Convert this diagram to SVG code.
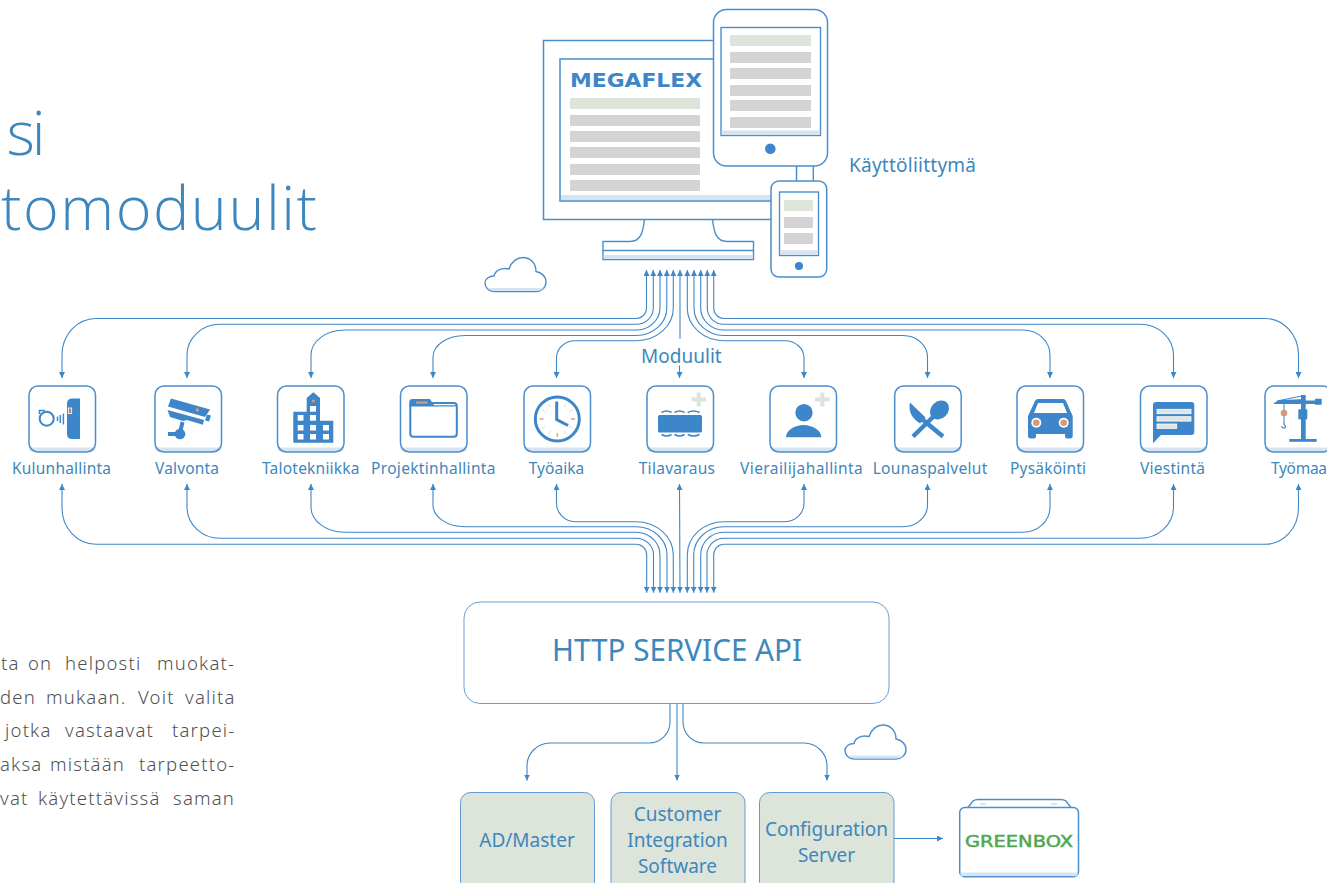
<svg xmlns="http://www.w3.org/2000/svg" width="1327" height="883" viewBox="0 0 1327 883">
<style>
text{font-family:"Noto Sans","Open Sans","Liberation Sans",sans-serif;fill:#3d87bd}
.lbl{font-size:15.5px}
.big{font-size:19px}
.ttl{font-size:61px;font-weight:300;font-family:"Open Sans","Noto Sans",sans-serif}
.par{font-size:18.5px;font-weight:300;fill:#4f5153;letter-spacing:1.2px}
.logo{font-family:"DejaVu Sans",sans-serif}
.ln{fill:none;stroke:#3f87c7;stroke-width:1.1}
.a{marker-start:url(#ah);marker-end:url(#ah)}
.e{marker-end:url(#ah)}
.o{fill:#fff;stroke:#4a8fcc;stroke-width:1.5}
.i{fill:#3c86c9}
.s{fill:none;stroke:#3c86c9}
.b{fill:#d6e3f1}
.g{fill:#d4d4d4}
.gn{fill:#dde4d9}
.or{fill:#d59a78}
.pl{fill:none;stroke:#dce4dd;stroke-width:4}
.w{fill:#fff}
</style>
<defs>
<marker id="ah" viewBox="0 0 6 6" refX="6" refY="3" markerWidth="6" markerHeight="6" markerUnits="userSpaceOnUse" orient="auto-start-reverse"><path d="M0 0L6 3L0 6Z" fill="#3f87c7"/></marker>
<g id="frame"><rect width="66.5" height="66" rx="9" fill="#fff"/><path class="b" d="M0 61.5H66.5Q66.5 66 60 66H6Q0 66 0 61.5Z"/><rect width="66.5" height="66" rx="9" fill="none" stroke="#4a8fcc" stroke-width="1.5"/></g>
<g id="cloud"><path d="M495 291.5C488 291.5 485 287 485 283C485 279 489 276 494 276C495 271 501 267 509 269C511 262 517 257.5 523 257.5C530 257.5 536 263 536 271.5C541 272.5 546 276 546 282C546 288 541 291.5 536 291.5Z" fill="#fff" stroke="#4a8fcc" stroke-width="1.4"/><path class="b" d="M487.5 288H543.5Q541 291 536 291H495Q490 291 487.5 288Z"/></g>
</defs>

<g id="title">
<text class="ttl" x="6.5" y="155" textLength="39">si</text>
<text class="ttl" x="1" y="230" textLength="316">tomoduulit</text>
</g>
<g id="paragraph">
<text class="par" y="670"><tspan x="1">ta</tspan> <tspan x="28">on</tspan> <tspan x="65">helposti</tspan> <tspan x="157">muokat-</tspan></text>
<text class="par" y="704"><tspan x="0">den</tspan> <tspan x="46">mukaan.</tspan> <tspan x="138">Voit</tspan> <tspan x="185">valita</tspan></text>
<text class="par" y="737"><tspan x="5">jotka</tspan> <tspan x="65">vastaavat</tspan> <tspan x="172">tarpei-</tspan></text>
<text class="par" y="771"><tspan x="0">aksa</tspan> <tspan x="50">mistään</tspan> <tspan x="139">tarpeetto-</tspan></text>
<text class="par" y="805"><tspan x="0">vat</tspan> <tspan x="38">käytettävissä</tspan> <tspan x="173">saman</tspan></text>
</g>

<g id="ui-devices">
<g id="monitor">
<path d="M644.5 219.5C643 232 641 241.5 630 241.5H603V259.5H753.5V241.5H727C716 241.5 714 232 712.5 219.5" fill="#fff" stroke="#4a8fcc" stroke-width="1.4"/>
<rect class="b" x="603.7" y="255" width="149" height="4"/>
<path d="M603 250.5H753.5" stroke="#4a8fcc" stroke-width="1.4"/>
<rect class="o" x="543.5" y="40.5" width="253" height="179" fill="#fff"/>
<rect class="b" x="560.7" y="195" width="218" height="5.3"/>
<path d="M780 59H560V201H780" fill="none" stroke="#4a8fcc" stroke-width="1.5"/>
<text class="logo" x="570" y="87.3" font-size="20" font-weight="700" textLength="132" lengthAdjust="spacingAndGlyphs" style="fill:#3c86c9">MEGAFLEX</text>
<rect class="gn" x="570" y="98" width="130" height="11"/>
<rect class="g" x="570" y="115" width="130" height="11"/>
<rect class="g" x="570" y="131" width="130" height="11"/>
<rect class="g" x="570" y="147" width="130" height="11"/>
<rect class="g" x="570" y="164" width="130" height="11"/>
<rect class="g" x="570" y="180" width="130" height="11"/>
</g>
<g id="tablet">
<path d="M813.3 160V181" stroke="#4a8fcc" stroke-width="1.4"/>
<rect x="713.5" y="9.5" width="114" height="156.5" rx="13" fill="#fff" stroke="#4a8fcc" stroke-width="1.5"/>
<rect x="721" y="27.5" width="99.5" height="108" fill="#fff" stroke="#4a8fcc" stroke-width="1.4"/>
<rect class="b" x="721.7" y="130.5" width="98" height="4.3"/>
<rect class="gn" x="730" y="35" width="81" height="11"/>
<rect class="g" x="730" y="52" width="81" height="11"/>
<rect class="g" x="730" y="68" width="81" height="11"/>
<rect class="g" x="730" y="85" width="81" height="11"/>
<rect class="g" x="730" y="100" width="81" height="11"/>
<rect class="g" x="730" y="117" width="81" height="11"/>
<circle class="i" cx="770.3" cy="148.7" r="5.3"/>
</g>
<g id="phone">
<rect x="771" y="181" width="55.7" height="96" rx="8" fill="#fff" stroke="#4a8fcc" stroke-width="1.5"/>
<rect x="779.5" y="192" width="39" height="63.5" fill="#fff" stroke="#4a8fcc" stroke-width="1.4"/>
<rect class="b" x="780.2" y="250.3" width="37.6" height="4.5"/>
<rect class="gn" x="784" y="200" width="29" height="11"/>
<rect class="g" x="784" y="217" width="29" height="11"/>
<rect class="g" x="784" y="233" width="29" height="11"/>
<circle class="i" cx="799" cy="266" r="4"/>
</g>
</g>
<g id="label-ui"><text class="big" x="849" y="172" textLength="127">Käyttöliittymä</text></g>
<g id="cloud-top"><use href="#cloud"/></g>

<g id="connectors">
<path class="ln a" d="M62 378V355A34 36.5 0 0 1 96 318.5H636A10.5 10.5 0 0 0 646.5 308V270"/>
<path class="ln a" d="M187 378V355A33 30.7 0 0 1 220 324.3H636A17.3 16.3 0 0 0 653.3 308V270"/>
<path class="ln a" d="M311 378V355A34 25 0 0 1 345 330H636A24 22 0 0 0 660 308V270"/>
<path class="ln a" d="M433 378V357A32 21.5 0 0 1 465 335.5H636A30.8 27.5 0 0 0 666.8 308V270"/>
<path class="ln a" d="M556.5 378V358A18.5 17.3 0 0 1 575 340.7H636A37.3 32.7 0 0 0 673.3 308V270"/>
<path class="ln" d="M680 339V270" marker-end="url(#ah)"/>
<path class="ln e" d="M679.5 365.5V378"/>
<path class="ln a" d="M804 378V358A19 17.3 0 0 0 785 340.7H724A36.7 32.7 0 0 1 687.3 308V270"/>
<path class="ln a" d="M927.5 378V357A24.5 21.5 0 0 0 903 335.5H724A30 27.5 0 0 1 694 308V270"/>
<path class="ln a" d="M1050 378V355A27 25 0 0 0 1023 330H724A23.3 22 0 0 1 700.7 308V270"/>
<path class="ln a" d="M1173.5 378V355A33.5 30.7 0 0 0 1140 324.3H724A16.7 16.3 0 0 1 707.3 308V270"/>
<path class="ln a" d="M1298.5 378V355A33.5 36.5 0 0 0 1265 318.5H724A10.3 10.5 0 0 1 713.7 308V270"/>

<path class="ln a" d="M62 484V508A34 36.3 0 0 0 96 544.3H636A10.7 10.7 0 0 1 646.7 555V592.7"/>
<path class="ln a" d="M187 484V507A33 31.3 0 0 0 220 538.3H636A17.5 16.7 0 0 1 653.5 555V592.7"/>
<path class="ln a" d="M311 484V507A34 25.3 0 0 0 345 532.3H636A24 22.7 0 0 1 660 555V592.7"/>
<path class="ln a" d="M433 484V505A32 21.7 0 0 0 465 526.7H636A31 28.3 0 0 1 667 555V592.7"/>
<path class="ln a" d="M556.5 484V503A18.5 18.7 0 0 0 575 521.7H636A37.3 33.3 0 0 1 673.3 555V592.7"/>
<path class="ln a" d="M680 592.7L679.5 484"/>
<path class="ln a" d="M804 484V503A19 18.7 0 0 1 785 521.7H724A36.7 33.3 0 0 0 687.3 555V592.7"/>
<path class="ln a" d="M927.5 484V505A24.5 21.7 0 0 1 903 526.7H724A30.3 28.3 0 0 0 693.7 555V592.7"/>
<path class="ln a" d="M1050 484V507A27 25.3 0 0 1 1023 532.3H724A23.3 22.7 0 0 0 700.7 555V592.7"/>
<path class="ln a" d="M1173.5 484V507A33.5 31.3 0 0 1 1140 538.3H724A17 16.7 0 0 0 707 555V592.7"/>
<path class="ln a" d="M1298.5 484V508A33.5 36.3 0 0 1 1265 544.3H724A10.3 10.7 0 0 0 713.7 555V592.7"/>

<path class="ln e" d="M670 703V722A21 21 0 0 1 649 743H550A23 23 0 0 0 527 766V780.5"/>
<path class="ln e" d="M677 703V780.5"/>
<path class="ln e" d="M683 703V722A21 21 0 0 0 704 743H804A23 23 0 0 1 827 766V780.5"/>
<path class="ln e" d="M894 838.5H943"/>
</g>

<g id="label-moduulit"><text class="big" x="641" y="362.7" textLength="80.7">Moduulit</text></g>

<g id="node-kulunhallinta">
<use href="#frame" x="29" y="386"/>
<path class="i" d="M80 398.5H72Q67 398.5 67 404V434Q67 439 72 439H80Z"/>
<rect x="68.3" y="408" width="3.4" height="5.6" fill="#d5805a" stroke="#fff" stroke-width=".8"/>
<circle class="s" cx="46.7" cy="418.7" r="7" stroke-width="2"/>
<path class="s" stroke-width="1.6" d="M39.5 414V410.5H45"/>
<path class="s" stroke-width="1.5" d="M57.5 416.5V421M60.3 415V423M63.4 413.5V424.5"/>
<text class="lbl" x="12" y="474" textLength="99">Kulunhallinta</text>
</g>
<g id="node-valvonta">
<use href="#frame" x="155" y="386"/>
<path class="i" d="M171 398.5L210 409.5L205 417L168 406.5Z"/>
<path class="i" d="M167.5 410L204 420L203 424.7L187 420L183 421L170 417Z"/>
<path class="i" d="M207 414.5L211 415.5L209 421.5L205 420.5Z"/>
<path class="s" stroke-width="4" d="M182.5 422L180 433"/>
<circle class="i" cx="180" cy="434" r="5.3"/>
<rect class="i" x="168" y="432" width="10" height="4"/>
<circle class="or" cx="197.3" cy="410" r="1.8"/>
<text class="lbl" x="155" y="474" textLength="64">Valvonta</text>
</g>
<g id="node-talotekniikka">
<use href="#frame" x="277.5" y="386"/>
<path class="i" d="M293.3 442.7V411.7H306.7V398L313.3 392.3L320 398V420.7H333.3V442.7Z"/>
<g class="w">
<rect x="310" y="406" width="6" height="5.7"/>
<rect x="297.7" y="415" width="5.8" height="5.7"/><rect x="310" y="415" width="6" height="5.7"/>
<rect x="297.7" y="425" width="5.8" height="5.5"/><rect x="310" y="425" width="6" height="5.5"/><rect x="323" y="425" width="6" height="5.5"/>
<rect x="297.7" y="434" width="5.8" height="5.5"/><rect x="310" y="434" width="6" height="5.5"/><rect x="323" y="434" width="6" height="5.5"/>
</g>
<circle class="or" cx="313.3" cy="401" r="1.6"/>
<text class="lbl" x="262" y="474" textLength="97.5">Talotekniikka</text>
</g>
<g id="node-projektinhallinta">
<use href="#frame" x="400.5" y="386"/>
<rect class="s" x="410.3" y="403" width="46.5" height="33.8" rx="3" stroke-width="2"/>
<path class="i" d="M409.3 406V402Q409.3 399 412.5 399H430L434 405.3H457V406.5H409.3Z"/>
<rect class="or" x="416" y="401.5" width="11.3" height="2.2"/>
<text class="lbl" x="371" y="474" textLength="124.5">Projektinhallinta</text>
</g>
<g id="node-tyoaika">
<use href="#frame" x="524" y="386"/>
<circle class="s" cx="557.3" cy="419" r="22" stroke-width="3"/>
<path stroke="#e0e5ea" stroke-width="1.2" d="M566 404L564 407.5M572.3 410L569 412M572.3 428L569 426M566 434L564 430.5M548.5 434L550.5 430.5M542.3 428L545.6 426M542.3 410L545.6 412M548.5 404L550.5 407.5"/>
<path stroke="#dda283" stroke-width="1.3" d="M539.5 419H543.5M571 419H575M557.3 433V437"/>
<path class="s" stroke-width="3" d="M556.7 401.5V419.5L568 425.5"/>
<text class="lbl" x="528.7" y="474" textLength="55.6">Työaika</text>
</g>
<g id="node-tilavaraus">
<use href="#frame" x="647" y="386"/>
<rect class="i" x="658" y="415" width="44" height="17.5" rx="1.5"/>
<path class="s" stroke-width="1.5" d="M661.5 412.5Q666.5 409.5 671.5 412.5M674.5 412.5Q679.5 409.5 684.5 412.5M687.7 412.5Q693.5 409.5 699.5 412.5M661.5 434.5Q666.5 437.5 671.5 434.5M674.5 434.5Q679.5 437.5 684.5 434.5M687.7 434.5Q693.5 437.5 699.5 434.5"/>
<path class="pl" d="M691.5 399.5H706M698.7 392.5V406.5"/>
<text class="lbl" x="638.7" y="474" textLength="76.3">Tilavaraus</text>
</g>
<g id="node-vierailijahallinta">
<use href="#frame" x="770" y="386"/>
<circle class="i" cx="804" cy="412.7" r="8.7"/>
<path class="i" d="M786 437.3C786 430 795 425 803.5 425C812 425 821.3 430 821.3 437.3Z"/>
<path class="pl" d="M815 399.5H829.6M822.3 392.5V406.5"/>
<text class="lbl" x="740" y="474" textLength="122.7">Vierailijahallinta</text>
</g>
<g id="node-lounaspalvelut">
<use href="#frame" x="894.7" y="386"/>
<path class="i" d="M910 402.5L925.5 417.5L920 423.5C912 418 908 412 910 402.5Z"/>
<path class="s" stroke-width="4.5" d="M920 417.5L943 436.5"/>
<ellipse class="i" cx="939.5" cy="410" rx="10.5" ry="8.5" transform="rotate(-45 939.5 410)"/>
<path class="s" stroke-width="4.5" d="M933 417L913 436.5"/>
<text class="lbl" x="872.7" y="474" textLength="114.6">Lounaspalvelut</text>
</g>
<g id="node-pysakointi">
<use href="#frame" x="1017" y="386"/>
<path class="i" d="M1038 399H1063Q1065 399 1066 401L1072.7 416V434H1072.7V436Q1072.7 438.5 1070 438.5H1067Q1065 438.5 1065 436V434H1036V436Q1036 438.5 1034 438.5H1031Q1028 438.5 1028 436V416L1035 401Q1036 399 1038 399Z"/>
<path class="w" d="M1038 403H1063L1067 413H1034Z"/>
<circle class="w" cx="1036.3" cy="422.7" r="5"/><circle class="or" cx="1036.3" cy="422.7" r="3.3"/>
<circle class="w" cx="1063.7" cy="422.7" r="5"/><circle class="or" cx="1063.7" cy="422.7" r="3.3"/>
<text class="lbl" x="1010" y="474" textLength="76">Pysäköinti</text>
</g>
<g id="node-viestinta">
<use href="#frame" x="1140.5" y="386"/>
<path class="i" d="M1153 405Q1153 402 1156 402H1191Q1194.3 402 1194.3 405V432Q1194.3 435 1191 435H1161L1153 443.3Z"/>
<g fill="#dfe6e2" stroke="#fff" stroke-width=".8">
<rect x="1157" y="409.3" width="34" height="4.4"/>
<rect x="1157" y="416.7" width="34" height="4.4"/>
<rect x="1157" y="424" width="19.7" height="4.4"/>
</g>
<text class="lbl" x="1140" y="474" textLength="65">Viestintä</text>
</g>
<g id="node-tyomaa">
<use href="#frame" x="1265" y="386"/>
<rect class="i" x="1301" y="395" width="4.7" height="44"/>
<rect class="i" x="1298.3" y="409.3" width="9" height="10"/>
<rect class="i" x="1289.3" y="439" width="27.4" height="2.8"/>
<path class="i" d="M1273.3 404Q1276 400.5 1282 400L1305 399V404ZM1305 400.5H1315V398.7H1321.7V404.7H1315V404H1305Z"/>
<path class="s" stroke-width="1" d="M1277 401L1304 395.5"/>
<path class="s" stroke-width="1" d="M1284 404V423"/>
<circle class="or" cx="1284" cy="413" r="3.3"/>
<path class="s" stroke-width="1.2" d="M1284 422.5V424.5Q1286.5 426 1284.7 428Q1282 428.5 1281.5 426"/>
<text class="lbl" x="1271" y="474" textLength="56">Työmaa</text>
</g>

<g id="node-api">
<rect x="464" y="602" width="425" height="101.5" rx="16" fill="#fff" stroke="#6a9fd4" stroke-width="1"/>
<text x="552" y="660.5" font-size="30" textLength="250" lengthAdjust="spacingAndGlyphs">HTTP SERVICE API</text>
</g>
<g id="cloud-bottom"><use href="#cloud" x="360" y="467.5"/></g>
<g id="node-admaster">
<rect x="460.5" y="792.5" width="134" height="100" rx="10" fill="#dde4d9" stroke="#5f9bd0"/>
<text class="big" x="527" y="846.5" text-anchor="middle">AD/Master</text>
</g>
<g id="node-customer">
<rect x="611" y="792.5" width="134" height="100" rx="10" fill="#dde4d9" stroke="#5f9bd0"/>
<text class="big" x="677.5" y="820.5" text-anchor="middle">Customer</text>
<text class="big" x="677.5" y="847" text-anchor="middle">Integration</text>
<text class="big" x="677.5" y="873" text-anchor="middle">Software</text>
</g>
<g id="node-config">
<rect x="759.5" y="792.5" width="134.5" height="100" rx="10" fill="#dde4d9" stroke="#5f9bd0"/>
<text class="big" x="826.5" y="835.5" text-anchor="middle">Configuration</text>
<text class="big" x="826.5" y="862" text-anchor="middle">Server</text>
</g>
<g id="node-greenbox">
<path d="M968 807.5L973 801Q975 799.5 978 799.5H1060Q1064 799.5 1066 801L1071 807.5" fill="#fff" stroke="#4a8fcc" stroke-width="1.4"/>
<rect x="959.7" y="807.5" width="118.8" height="69.3" rx="5" fill="#fff" stroke="#4a8fcc" stroke-width="1.5"/>
<rect class="b" x="960.5" y="872.5" width="117" height="3.6"/>
<rect class="b" x="980" y="803" width="6" height="2"/><rect class="b" x="1051" y="803" width="6" height="2"/>
<text class="logo" x="965" y="847.3" font-size="15.8" textLength="108" lengthAdjust="spacingAndGlyphs" style="fill:#4fa850;stroke:#4fa850;stroke-width:.5">GREENBOX</text>
</g>
</svg>
